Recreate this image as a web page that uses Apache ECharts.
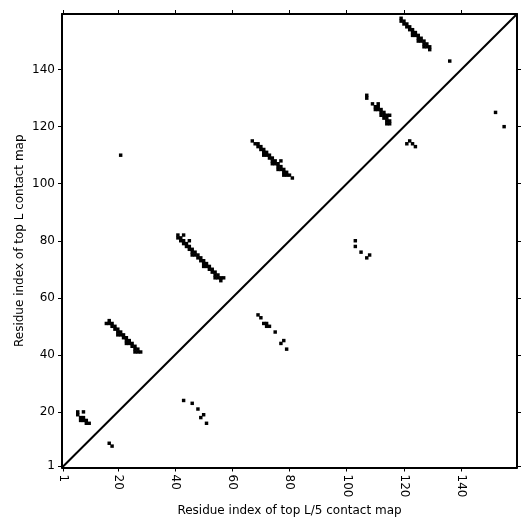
<!DOCTYPE html>
<html>
<head>
<meta charset="utf-8">
<script src="https://cdn.jsdelivr.net/npm/echarts@6/dist/echarts.min.js"></script>
<style>
  html, body { margin: 0; padding: 0; background: #fff; }
  #chart { width: 531px; height: 531px; }
</style>
</head>
<body>
<div id="chart"></div>
<script>
// sequence length and tick positions
const seqLen = 159
const tickValues = [1, 20, 40, 60, 80, 100, 120, 140]

// contacts above the diagonal (top L), [i, j]
const upperContacts = [
  [119, 158], [119, 157], [120, 157], [120, 156], [121, 156], [121, 155], [122, 155], [122, 154],
  [123, 154], [123, 153], [124, 153], [124, 152], [125, 152], [125, 151], [126, 151], [126, 150],
  [127, 150], [127, 149], [128, 149], [128, 148], [129, 148], [129, 147],
  [123, 152], [125, 150], [127, 148],
  [136, 143],
  [107, 131], [107, 130], [109, 128], [110, 127], [111, 128], [110, 126], [111, 127], [111, 126],
  [112, 126], [112, 125], [113, 125], [113, 124], [112, 124], [114, 124], [113, 123], [114, 123],
  [114, 122], [115, 122], [114, 121], [115, 121], [115, 124],
  [67, 115], [68, 114], [69, 114], [69, 113], [70, 113], [70, 112], [71, 112], [71, 111],
  [72, 111], [72, 110], [73, 110], [73, 109], [74, 109], [74, 108], [75, 108], [75, 107],
  [76, 107], [76, 106], [77, 106], [77, 105], [77, 108], [78, 105], [78, 104], [79, 104],
  [79, 103], [80, 103], [78, 103], [81, 102],
  [71, 110], [74, 107], [76, 105],
  [41, 82], [41, 81], [42, 81], [42, 80], [43, 80], [43, 79], [44, 79], [44, 78],
  [45, 78], [45, 77], [46, 77], [46, 76], [47, 76], [47, 75], [48, 75], [48, 74],
  [49, 74], [49, 73], [50, 73], [50, 72], [51, 72], [51, 71], [52, 71], [52, 70],
  [53, 70], [53, 69], [54, 69], [54, 68], [55, 68], [55, 67], [56, 67], [56, 66],
  [57, 67], [43, 82], [45, 80],
  [46, 75], [50, 71], [54, 67],
  [16, 51], [17, 52], [17, 51], [18, 51], [18, 50], [19, 50], [19, 49], [20, 49],
  [20, 48], [21, 48], [21, 47], [22, 47], [22, 46], [23, 46], [23, 45], [24, 45],
  [24, 44], [25, 44], [25, 43], [26, 43], [26, 42], [27, 42], [26, 41], [27, 41], [28, 41],
  [20, 47], [23, 44],
  [6, 20], [6, 19], [8, 20], [7, 18], [7, 17], [8, 18], [8, 17], [9, 17], [9, 16], [10, 16],
  [21, 110]
]

// contacts below the diagonal (top L/5), [i, j]
const lowerContacts = [
  [17, 9], [18, 8],
  [43, 24], [46, 23], [48, 21], [50, 19], [49, 18], [51, 16],
  [69, 54], [70, 53], [71, 51], [72, 51], [72, 50], [73, 50], [75, 48], [78, 45], [77, 44], [79, 42],
  [103, 80], [103, 78], [105, 76], [108, 75], [107, 74],
  [121, 114], [122, 115], [123, 114], [124, 113],
  [152, 125], [155, 120]
]

const chart = echarts.init(document.getElementById('chart'))

// one black cell per contact, a bit padded so neighbours join without seams
function renderCell (params, api) {
  const p = api.coord([api.value(0) - 0.5, api.value(1) + 0.5])
  const s = api.size([1, 1])
  return {
    type: 'rect',
    shape: { x: p[0] - 0.3, y: p[1] - 0.3, width: s[0] + 0.6, height: s[1] + 0.6 },
    style: { fill: '#000' }
  }
}

const font = 'DejaVu Sans'
const lineStyle = { color: '#000', width: 2 }

function makeAxis (pos, showLabel) {
  return {
    type: 'value',
    position: pos,
    min: 0.5,
    max: seqLen + 0.5,
    axisLine: { show: true, onZero: false, lineStyle: lineStyle },
    axisTick: { show: true, inside: false, length: 4, customValues: tickValues, lineStyle: { color: '#000', width: 1 } },
    axisLabel: {
      show: showLabel,
      customValues: tickValues,
      fontFamily: font,
      fontSize: 12,
      color: '#000',
      margin: 7
    },
    splitLine: { show: false }
  }
}

const xBottom = makeAxis('bottom', true)
xBottom.axisLabel.rotate = -90
xBottom.name = 'Residue index of top L/5 contact map'
xBottom.nameLocation = 'middle'
xBottom.nameGap = 36
xBottom.nameTextStyle = { fontFamily: font, fontSize: 12, color: '#000' }

const yLeft = makeAxis('left', true)
yLeft.name = 'Residue index of top L contact map'
yLeft.nameLocation = 'middle'
yLeft.nameGap = 36
yLeft.nameMoveOverlap = false
yLeft.nameTextStyle = { fontFamily: font, fontSize: 12, color: '#000' }

const option = {
  animation: false,
  backgroundColor: '#fff',
  grid: { left: 62, right: 14, top: 14, bottom: 63.5 },
  xAxis: [xBottom, makeAxis('top', false)],
  yAxis: [yLeft, makeAxis('right', false)],
  series: [
    {
      type: 'line',
      data: [[0.5, 0.5], [seqLen + 0.5, seqLen + 0.5]],
      showSymbol: false,
      lineStyle: { color: '#000', width: 2 },
      z: 1
    },
    {
      type: 'custom',
      renderItem: renderCell,
      data: upperContacts,
      z: 2
    },
    {
      type: 'custom',
      renderItem: renderCell,
      data: lowerContacts,
      z: 2
    }
  ]
}
chart.setOption(option)
</script>
</body>
</html>
